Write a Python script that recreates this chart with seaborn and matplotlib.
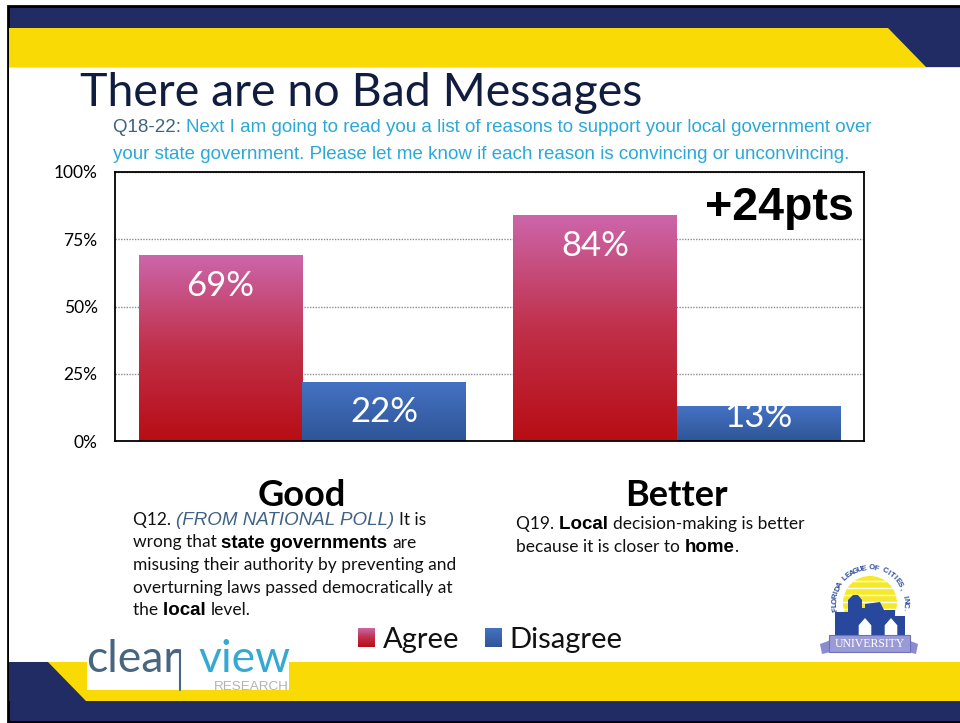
import numpy as np
import pandas as pd
import seaborn as sns
import matplotlib.pyplot as plt
from matplotlib.colors import LinearSegmentedColormap
from matplotlib.patches import Rectangle, Polygon, Circle

categories = ['Good', 'Better']
agree = [69, 84]
disagree = [22, 13]
y_ticks = [0, 25, 50, 75, 100]
y_tick_labels = ['0%', '25%', '50%', '75%', '100%']

NAVY = '#222c64'
YELLOW = '#f9da04'
W, H = 960, 723

sns.set_theme(style='white')
plt.rcParams['font.family'] = ['Lato', 'DejaVu Sans']

df = pd.DataFrame({
    'category': categories * 2,
    'answer': ['Agree'] * len(agree) + ['Disagree'] * len(disagree),
    'value': agree + disagree})

pink_red = LinearSegmentedColormap.from_list('pr', ['#b80d14', '#c0304a', '#cc66aa'])
blues = LinearSegmentedColormap.from_list('bl', ['#2f5597', '#4472c4'])
ramp = np.linspace(1, 0, 256).reshape(-1, 1)

fig = plt.figure(figsize=(W / 100, H / 100), dpi=100)
fig.patch.set_facecolor('white')

# slide background, in pixel coordinates
bg = fig.add_axes([0, 0, 1, 1], zorder=0)
bg.set_xlim(0, W)
bg.set_ylim(H, 0)
bg.axis('off')
bg.add_patch(Rectangle((8, 6), W, H - 7, fc=NAVY, ec='black', lw=2))
bg.add_patch(Rectangle((9, 67), W, 595, fc='white', ec='none'))
bg.add_patch(Polygon([(9, 28), (888, 28), (926, 67), (9, 67)], fc=YELLOW, ec='none'))
bg.add_patch(Polygon([(926, 67), (W, 67), (W, 68), (9, 68), (9, 67)], fc='#dfe0e8', ec='none'))
bg.add_patch(Rectangle((9, 662), 40, 39, fc=NAVY, ec='none'))
bg.add_patch(Polygon([(48, 662), (W, 662), (W, 701), (86, 701)], fc=YELLOW, ec='none'))


def runs(x, y, parts, size):
    # draws pieces of different style one after the other on a baseline
    rend = fig.canvas.get_renderer()
    for s, kw in parts:
        t = bg.text(x, y, s, fontsize=size * kw.pop('scale', 1), va='baseline', ha='left', **kw)
        x = t.get_window_extent(rend).x1
        x = bg.transData.inverted().transform((x, 0))[0]


SANS = ['Liberation Sans']
reg = dict(color='#111111')
bold = dict(color='black', family=SANS, fontweight='bold', scale=1.08)
ital = dict(color='#3f6285', family=SANS, fontstyle='italic', scale=1.08)

bg.text(80, 106, 'There are no Bad Messages', fontsize=33.5, color='#101d40', va='baseline')
runs(113, 132, [('Q18-22: ', dict(color='#3f6285', family=SANS)),
                ('Next I am going to read you a list of reasons to support your local government over',
                 dict(color='#2aa9d8', family=SANS))], 13.5)
bg.text(113, 159, 'your state government. Please let me know if each reason is convincing or unconvincing.',
        color='#2aa9d8', family=SANS, fontsize=13.5, va='baseline')

q12 = [[('Q12. ', reg), ('(FROM NATIONAL POLL) ', ital), ('It is', reg)],
       [('wrong that ', reg), ('state governments ', bold), ('are', reg)],
       [('misusing their authority by preventing and', reg)],
       [('overturning laws passed democratically at', reg)],
       [('the ', reg), ('local ', bold), ('level.', reg)]]
for i, line in enumerate(q12):
    runs(133, 525 + i * 22.5, [(s, dict(k)) for s, k in line], 12.5)

q19 = [[('Q19. ', reg), ('Local ', bold), ('decision-making is better', reg)],
       [('because it is closer to ', reg), ('home', bold), ('.', reg)]]
for i, line in enumerate(q19):
    runs(516, 529 + i * 23, [(s, dict(k)) for s, k in line], 12.5)

# clearview logo
bg.add_patch(Rectangle((87, 642), 202, 48, fc='white', ec='none'))
bg.text(86, 672, 'clear', fontsize=32, color='#48667f', va='baseline', ha='left')
bg.text(198, 672, 'view', fontsize=32, color='#35a9d4', va='baseline', ha='left')
bg.plot([180, 180], [650, 690], color='#48667f', lw=1.5)
bg.text(289, 690, 'RESEARCH', fontsize=9.7, color='#b4b4b4', family=SANS, va='baseline', ha='right')

# league of cities logo
cx, cy = 870, 603
sun = Circle((cx, cy), 27, fc='#f5ea2a', ec='none')
bg.add_patch(sun)
for yy in [581, 588, 595, 602, 609, 616]:
    stripe, = bg.plot([cx - 27, cx + 27], [yy, yy], color='white', lw=1)
    stripe.set_clip_path(sun)
skyline = [(835, 636), (835, 612), (848, 612), (848, 600), (853, 595), (858, 595), (862, 600),
           (862, 608), (865, 608), (865, 604), (880, 602), (884, 610), (895, 610), (895, 616),
           (905, 616), (905, 636)]
bg.add_patch(Polygon(skyline, fc='#27489c', ec='none', zorder=3))
for hx in [858, 884]:
    bg.add_patch(Polygon([(hx, 636), (hx, 625), (hx + 7, 617), (hx + 14, 625), (hx + 14, 636)],
                         fc='white', ec='#27489c', lw=1, zorder=3))
bg.add_patch(Polygon([(820, 644), (831, 640), (831, 652), (822, 654)], fc='#8b8ccf', ec='none', zorder=3))
bg.add_patch(Polygon([(918, 644), (908, 640), (908, 652), (916, 654)], fc='#8b8ccf', ec='none', zorder=3))
bg.add_patch(Rectangle((829, 635), 81, 17, fc='#9a9bd6', ec='#6d6fb8', lw=0.8, zorder=3))
bg.text(869.5, 644, 'UNIVERSITY', fontsize=8.5, color='white', family='Liberation Serif',
        ha='center', va='center', zorder=4)
arc = 'FLORIDA LEAGUE OF CITIES, INC.'
for ch, a in zip(arc, np.linspace(-100, 100, len(arc))):
    rad = np.radians(a)
    bg.text(cx + 35 * np.sin(rad), cy - 35 * np.cos(rad), ch, rotation=-a, rotation_mode='anchor',
            fontsize=5.6, color='#27489c', fontweight='bold', family=SANS, ha='center', va='center')

# chart
ax = fig.add_axes([115 / W, 1 - 441 / H, 749 / W, 269 / H], zorder=1)
sns.barplot(data=df, x='category', y='value', hue='answer', order=categories,
            palette=['#c0304a', '#4472c4'], width=0.872, gap=0, saturation=1, errorbar=None,
            linewidth=0, ax=ax)
ax.set_xlim(-0.5, 1.5)
ax.set_ylim(0, 100)
ax.set_yticks(y_ticks, y_tick_labels, fontsize=12.5, color='black')
ax.tick_params(axis='y', length=0, pad=12.5)
ax.tick_params(axis='x', length=0, pad=27)
ax.set_xticks(range(len(categories)), categories, fontsize=26, fontweight='bold', color='black')
ax.set_xlabel('')
ax.set_ylabel('')
ax.yaxis.grid(True, color='#8c8c8c', lw=1, ls=(0, (1, 1)))
ax.set_axisbelow(True)
for s in ax.spines.values():
    s.set_visible(True)
    s.set_color('black')
    s.set_linewidth(1.3)

for cont, cmap in zip(ax.containers, [pink_red, blues]):
    for bar in cont:
        img = ax.imshow(ramp, cmap=cmap, aspect='auto', zorder=bar.get_zorder() + 0.1,
                        extent=[bar.get_x(), bar.get_x() + bar.get_width(), 0, bar.get_height()])
        img.set_clip_path(bar)
    labels = ax.bar_label(cont, fmt='%d%%', padding=-22, color='white', fontsize=25, zorder=5)
    for t, bar in zip(labels, cont):
        t.set_va('center')
        # the lowest bar is too short for the usual offset
        if bar.get_height() < 15:
            t.xyann = (0, -8)
ax.set_xlim(-0.5, 1.5)
ax.set_ylim(0, 100)

ax.text(854, 208, '+24pts', transform=bg.transData, ha='right', va='center', fontsize=33.5,
        fontweight='bold', family=SANS, color='black', zorder=6)

sns.move_legend(ax, 'center', bbox_to_anchor=(490.5 / W, 1 - 640 / H), bbox_transform=fig.transFigure,
                ncols=2, frameon=False, title=None, fontsize=21, handlelength=0.55, handleheight=0.6,
                handletextpad=0.28, columnspacing=0.9)
leg = ax.get_legend()
for txt in leg.get_texts():
    txt.set_color('#111111')

# gradient on the legend swatches
fig.canvas.draw()
for h, cmap in zip(leg.legend_handles, [pink_red, blues]):
    box = h.get_window_extent()
    (x0, y0), (x1, y1) = fig.transFigure.inverted().transform([(box.x0, box.y0), (box.x1, box.y1)])
    sw = fig.add_axes([x0, y0, x1 - x0, y1 - y0], zorder=3)
    sw.imshow(ramp, cmap=cmap, aspect='auto')
    sw.axis('off')

fig.savefig('out.png', dpi=100)
